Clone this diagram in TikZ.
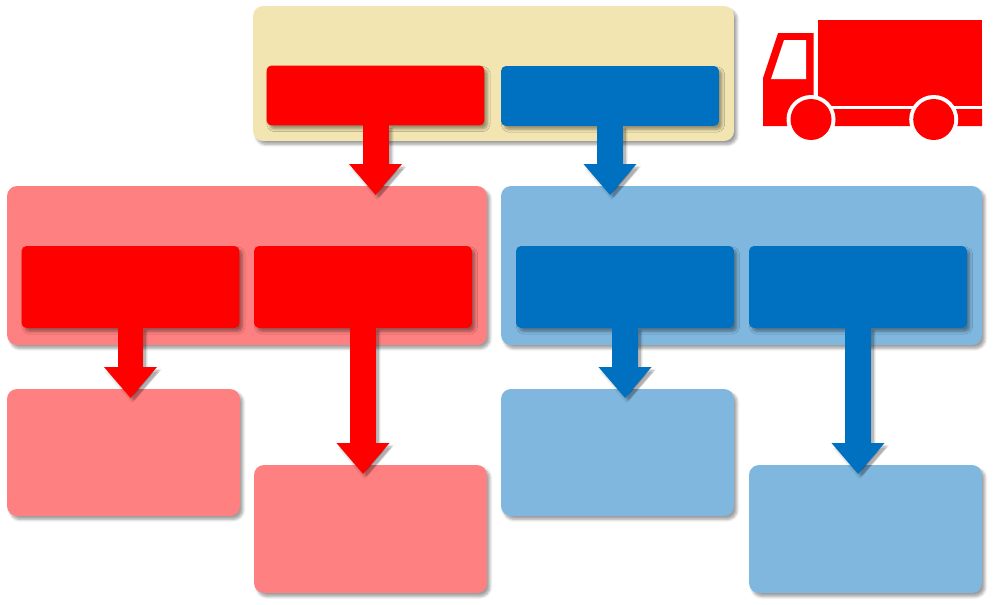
\documentclass[tikz,border=0pt]{standalone}
\usepackage{xcolor}
\usetikzlibrary{arrows.meta,shadows,shadows.blur}
\definecolor{truckRed}{HTML}{FF0000}
\definecolor{paleRed}{HTML}{FF8080}
\definecolor{deepBlue}{HTML}{0070C0}
\definecolor{paleBlue}{HTML}{80B7DF}
\definecolor{sand}{HTML}{F2E5B2}
\newcommand{\flowarrow}[3]{%
  \foreach \sx/\sy/\sop in {.02/-.10/.05,.05/-.09/.07,.08/-.06/.08,.10/-.03/.05,.06/-.05/.10}
    \draw[blockarrow,black,opacity=\sop,transform canvas={xshift=\sx cm,yshift=\sy cm}]
      (#1.south) -- ([yshift=-.18cm]#1.south |- #2.north);
  \draw[blockarrow,#3] (#1.south) -- ([yshift=-.18cm]#1.south |- #2.north);
}
\begin{document}
\begin{tikzpicture}[x=0.02cm,y=-0.02cm,
  softshadow/.style={blur shadow={shadow xshift=.06cm,shadow yshift=-.07cm,shadow blur radius=.055cm,shadow blur steps=6,shadow opacity=38}},
  panel/.style={rounded corners=.2cm,inner sep=0pt,outer sep=0pt,softshadow},
  block/.style={rounded corners=.1cm,inner sep=0pt,outer sep=0pt,softshadow,minimum width=4.36cm},
  blockarrow/.style={line width=.52cm,-{Triangle[length=.62cm,width=1.02cm]}}]
\useasboundingbox (0,0) rectangle (994,605);
% top group
\node[panel,fill=sand,minimum width=9.62cm,minimum height=2.7cm] (top) at (493.5,73.5) {};
\node[block,fill=truckRed,minimum height=1.2cm] (redhead) at (375.5,95.5) {};
\node[block,fill=deepBlue,minimum height=1.2cm] (bluehead) at (610,96) {};
% red group
\node[panel,fill=paleRed,minimum width=9.6cm,minimum height=3.18cm] (redpanel) at (247,265.5) {};
\node[block,fill=truckRed,minimum height=1.64cm] (redA) at (130.5,287) {};
\node[block,fill=truckRed,minimum height=1.64cm] (redB) at (363,287) {};
% blue group
\node[panel,fill=paleBlue,minimum width=9.62cm,minimum height=3.18cm] (bluepanel) at (741.5,265.5) {};
\node[block,fill=deepBlue,minimum height=1.64cm] (blueA) at (625,287) {};
\node[block,fill=deepBlue,minimum height=1.64cm] (blueB) at (858,287) {};
% lower boxes
\node[panel,fill=paleRed,minimum width=4.66cm,minimum height=2.54cm] (redC) at (123.5,452.5) {};
\node[panel,fill=paleRed,minimum width=4.66cm,minimum height=2.56cm] (redD) at (370.5,529) {};
\node[panel,fill=paleBlue,minimum width=4.66cm,minimum height=2.54cm] (blueC) at (617.5,452.5) {};
\node[panel,fill=paleBlue,minimum width=4.66cm,minimum height=2.56cm] (blueD) at (865.5,529) {};
% arrows
\flowarrow{redhead}{redpanel}{truckRed}
\flowarrow{bluehead}{bluepanel}{deepBlue}
\flowarrow{redA}{redC}{truckRed}
\flowarrow{redB}{redD}{truckRed}
\flowarrow{blueA}{blueC}{deepBlue}
\flowarrow{blueB}{blueD}{deepBlue}
% truck
\fill[truckRed] (817.5,20) rectangle (982,106);
\fill[truckRed] (763,126) -- (763,78) -- (778,33) -- (813.5,33) -- (813.5,109) -- (982,109) -- (982,126) -- cycle;
\fill[white] (771,79) -- (784,40) -- (806,40) -- (806,79) -- cycle;
\fill[white] (811,119.5) circle (.49cm) (933.7,119.5) circle (.49cm);
\fill[truckRed] (811,119.5) circle (.41cm) (933.7,119.5) circle (.41cm);
\end{tikzpicture}
\end{document}
